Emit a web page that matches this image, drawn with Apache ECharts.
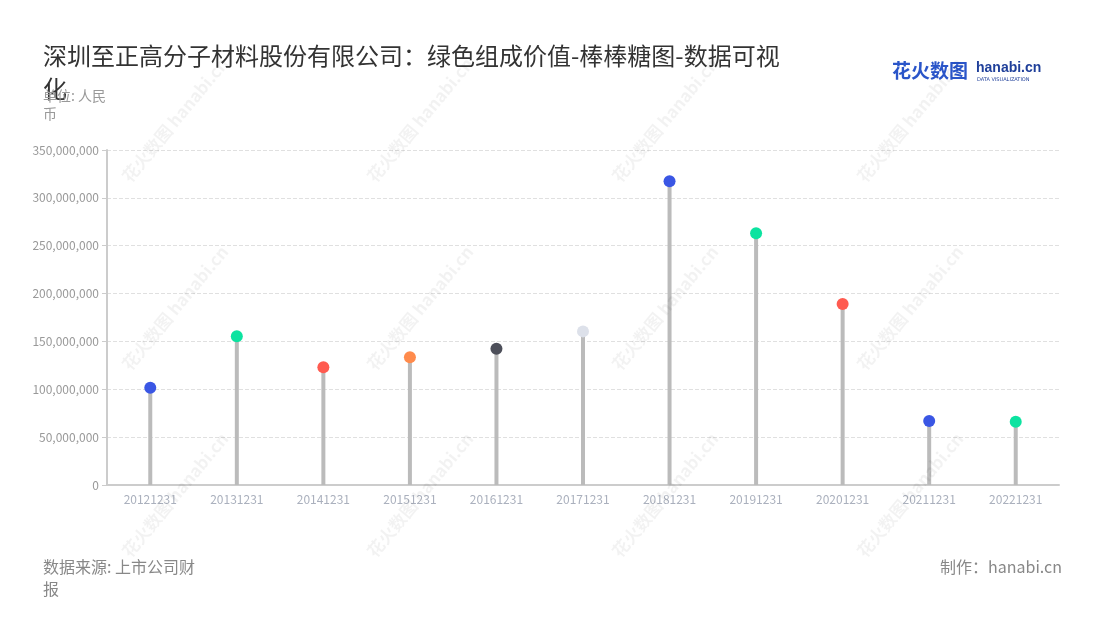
<!DOCTYPE html>
<html>
<head>
<meta charset="utf-8">
<script src="https://cdn.jsdelivr.net/npm/echarts@6/dist/echarts.min.js"></script>
<style>html,body{margin:0;padding:0;background:#fff}#c{width:1100px;height:620px}</style>
</head>
<body>
<div id="c"></div>
<script>
const categories = ['20121231','20131231','20141231','20151231','20161231','20171231','20181231','20191231','20201231','20211231','20221231'];
const values = [101500000, 155500000, 123000000, 133500000, 142300000, 160500000, 317300000, 263000000, 189000000, 66800000, 66200000];
const dotColors = ['#3a56e4','#0ce3a0','#ff5b50','#ff8b4c','#4d4f5a','#dde1ea','#3a56e4','#0ce3a0','#ff5b50','#3a56e4','#0ce3a0'];
const yTicks = [0, 50000000, 100000000, 150000000, 200000000, 250000000, 300000000, 350000000];

const FONT = '"Noto Sans CJK SC","Noto Sans",sans-serif';
const chart = echarts.init(document.getElementById('c'));

const wm = [];
const wmX = [175, 420, 665, 910];
const wmY = [120, 308, 495];
wmY.forEach(function(y){ wmX.forEach(function(x){
  wm.push({type:'text', x:x, y:y, rotation:Math.PI*0.28, silent:true, z:100,
    style:{text:'花火数图 hanabi.cn', fill:'rgba(0,0,0,0.05)', font:'bold 17px '+FONT, align:'center', verticalAlign:'middle'}});
});});

chart.setOption({
  backgroundColor:'#fff',
  animation:false,
  title:[
    {text:'深圳至正高分子材料股份有限公司：绿色组成价值-棒棒糖图-数据可视化', left:43, top:39, padding:0,
     textStyle:{fontFamily:FONT, fontSize:24, fontWeight:'normal', color:'#333', width:750, overflow:'break', lineHeight:33}},
    {text:'单位: 人民币', left:43, top:87, padding:0,
     textStyle:{fontFamily:FONT, fontSize:14, fontWeight:'normal', color:'#999', width:72, overflow:'break', lineHeight:18}},
    {text:'数据来源: 上市公司财报', left:43, top:556, padding:0,
     textStyle:{fontFamily:FONT, fontSize:16, fontWeight:'normal', color:'#888', width:168, overflow:'break', lineHeight:22}},
    {text:'制作：hanabi.cn', right:38, top:556, padding:0,
     textStyle:{fontFamily:FONT, fontSize:16, fontWeight:'normal', color:'#888', lineHeight:22}}
  ],
  graphic: wm.concat([
    {type:'text', left:892, top:61, style:{text:'花火数图', fill:'#2a55c9', font:'bold 19px '+FONT}},
    {type:'text', left:976, top:61, style:{text:'hanabi.cn', fill:'#1f3f9a', font:'bold 14px "Liberation Sans",sans-serif'}},
    {type:'text', left:977, top:77, style:{text:'DATA VISUALIZATION', fill:'#1f3f9a', font:'5px "DejaVu Sans",sans-serif'}}
  ]),
  grid:{left:107, right:41, top:150, bottom:135},
  xAxis:{type:'category', data:categories, boundaryGap:true,
    axisLine:{lineStyle:{color:'#ccc', width:2}},
    axisTick:{alignWithLabel:true, lineStyle:{color:'#ccc'}},
    axisLabel:{color:'#aab0bd', fontSize:12, fontFamily:FONT, margin:8}},
  yAxis:{type:'value', min:0, max:350000000, interval:50000000,
    axisLine:{show:true, lineStyle:{color:'#ccc', width:2}},
    axisTick:{show:true, lineStyle:{color:'#ccc'}},
    splitLine:{lineStyle:{type:'dashed', color:'#e0e0e0'}},
    axisLabel:{color:'#999', fontSize:12, fontFamily:FONT,
      formatter:function(v){ return yTicks.indexOf(v)>=0 ? v.toLocaleString('en-US') : ''; }}},
  series:[
    {type:'bar', data:values, barWidth:4, itemStyle:{color:'#bbbbbb'}, z:2},
    {type:'scatter', data:values.map(function(v,i){return {value:v, itemStyle:{color:dotColors[i], opacity:1}};}),
     symbolSize:12, z:3}
  ]
});
</script>
</body>
</html>
